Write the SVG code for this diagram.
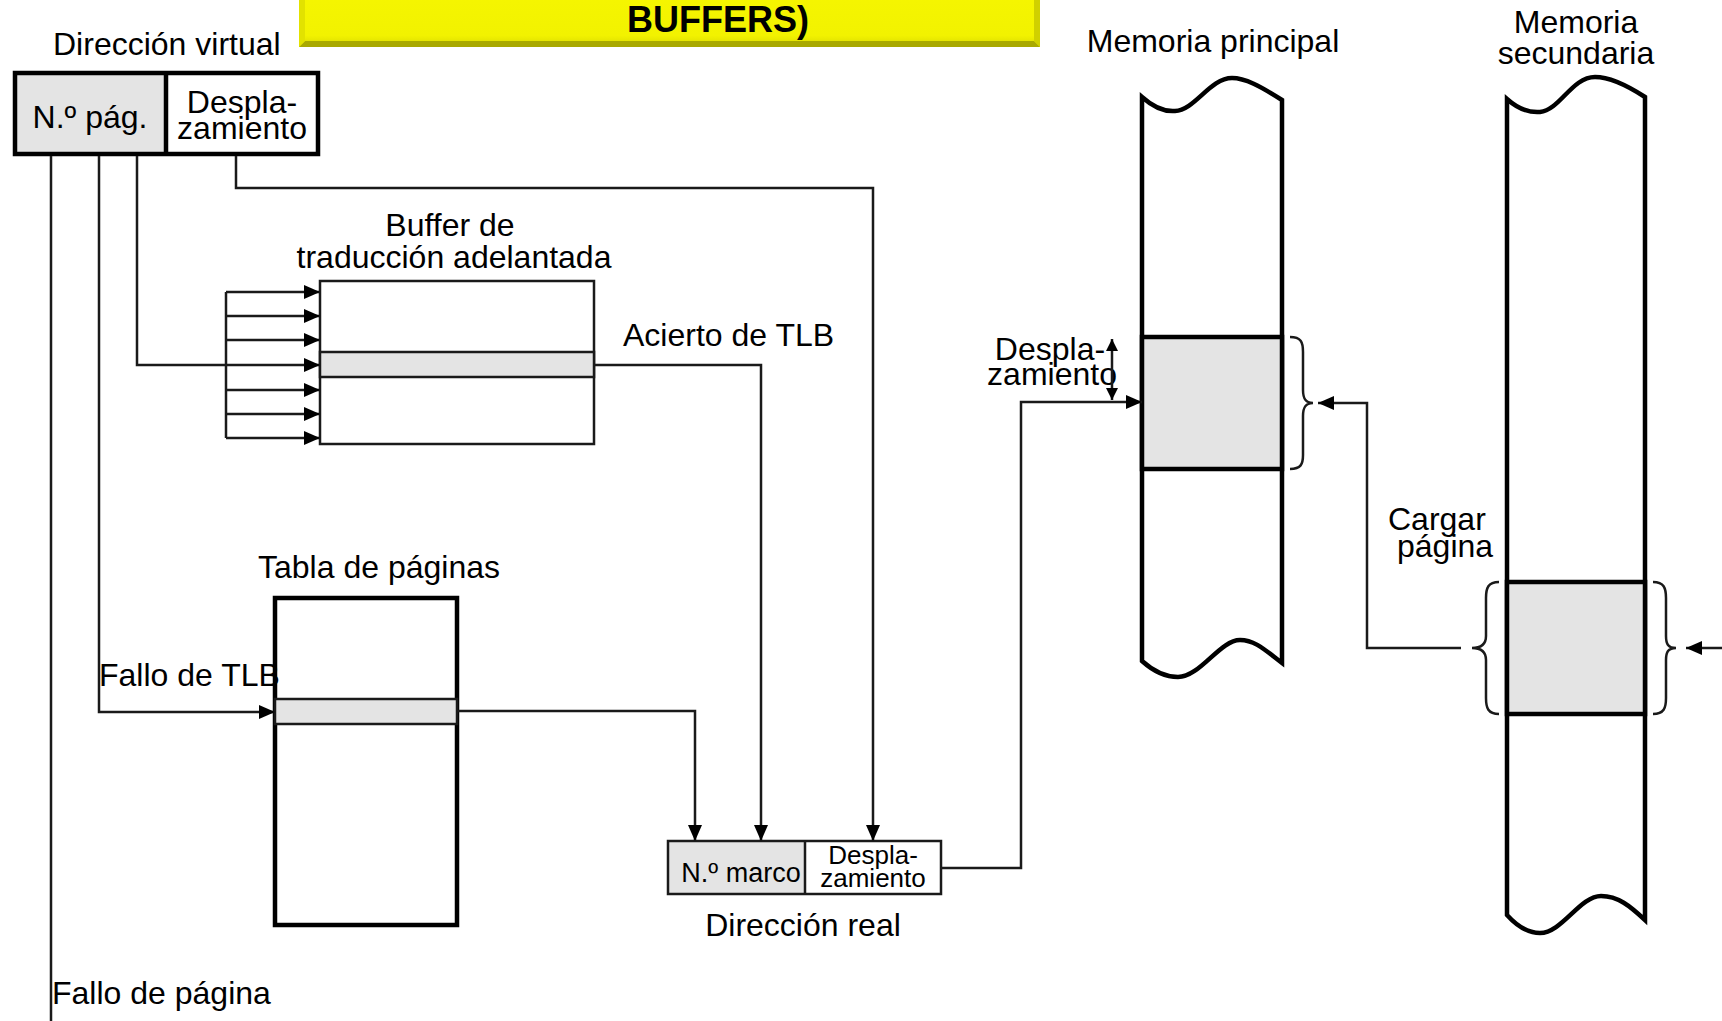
<svg xmlns="http://www.w3.org/2000/svg" width="1722" height="1021" viewBox="0 0 1722 1021">
<style>
text{font-family:"Liberation Sans",Arial,sans-serif;fill:#000}
.lbl{font-size:32px}
.sm{font-size:26px}
.ln{fill:none;stroke:#1a1a1a;stroke-width:2.5}
.thin{fill:none;stroke:#1a1a1a;stroke-width:2.5}
.thick{stroke:#000;stroke-width:4.5}
.hl{fill:#e4e4e4}
</style>
<defs>
<marker id="ah" markerUnits="userSpaceOnUse" markerWidth="18" markerHeight="14" refX="16" refY="7" orient="auto">
<path d="M0 0 L16 7 L0 14 Z" fill="#000"/>
</marker>
<marker id="as" markerUnits="userSpaceOnUse" markerWidth="14" markerHeight="12" refX="12" refY="6" orient="auto-start-reverse">
<path d="M0 0 L12 6 L0 12 Z" fill="#000"/>
</marker>
<linearGradient id="yb" x1="0" y1="0" x2="0" y2="1">
<stop offset="0" stop-color="#f6f600"/>
<stop offset="0.8" stop-color="#f2f200"/>
<stop offset="1" stop-color="#d8d800"/>
</linearGradient>
</defs>

<g id="title">
<rect x="299" y="-10" width="741" height="57" fill="url(#yb)"/>
<polygon points="299,47 1040,47 1034,41 305,41" fill="#a9a900"/>
<polygon points="299,-10 305,-10 305,41 299,47" fill="#e2e200"/>
<polygon points="1040,-10 1034,-10 1034,41 1040,47" fill="#d0d000"/>
<text x="718" y="32" text-anchor="middle" font-size="36" font-weight="bold">BUFFERS)</text>
</g>

<g id="virtual-address">
<text class="lbl" x="53" y="55">Dirección virtual</text>
<rect x="15" y="73" width="151" height="81" class="hl"/>
<rect x="15" y="73" width="303" height="81" fill="none" class="thick"/>
<line x1="166" y1="73" x2="166" y2="154" class="thick"/>
<text class="lbl" x="90" y="128" text-anchor="middle">N.º pág.</text>
<text class="lbl" x="242" y="113" text-anchor="middle">Despla-</text>
<text class="lbl" x="242" y="139" text-anchor="middle">zamiento</text>
</g>

<g id="tlb">
<text class="lbl" x="450" y="236" text-anchor="middle">Buffer de</text>
<text class="lbl" x="454" y="268" text-anchor="middle">traducción adelantada</text>
<rect x="320" y="281" width="274" height="163" fill="#fff" class="thin"/>
<rect x="320" y="352" width="274" height="25" class="hl" stroke="#1a1a1a" stroke-width="2.5"/>
</g>

<g id="page-table">
<text class="lbl" x="379" y="578" text-anchor="middle">Tabla de páginas</text>
<rect x="275" y="598" width="182" height="327" fill="#fff" class="thick"/>
<rect x="275" y="699" width="182" height="25" class="hl" stroke="#1a1a1a" stroke-width="2.5"/>
</g>

<g id="real-address">
<rect x="668" y="841" width="137" height="53" class="hl"/>
<rect x="668" y="841" width="273" height="53" fill="none" class="thin"/>
<line x1="805" y1="841" x2="805" y2="894" class="thin"/>
<text x="741" y="882" text-anchor="middle" font-size="27">N.º marco</text>
<text class="sm" x="873" y="864" text-anchor="middle">Despla-</text>
<text class="sm" x="873" y="887" text-anchor="middle">zamiento</text>
<text class="lbl" x="803" y="936" text-anchor="middle">Dirección real</text>
</g>

<g id="main-memory">
<text class="lbl" x="1213" y="52" text-anchor="middle">Memoria principal</text>
<path d="M1142 97 C1152 106,1162 112,1175 111 C1195 110,1210 78,1232 78 C1245 78,1260 86,1282 100 L1282 663 C1265 650,1255 640,1240 640 C1220 640,1200 677,1178 677 C1165 677,1152 670,1142 661 Z" fill="#fff" class="thick"/>
<rect x="1142" y="337" width="140" height="132" class="hl thick"/>
<path d="M1290 337 C1301 337,1303 342,1303 352 L1303 390 C1303 398,1305 403,1313 403 C1305 403,1303 408,1303 416 L1303 455 C1303 464,1301 469,1290 469" class="thin" stroke-width="2"/>
<text class="lbl" x="1050" y="360" text-anchor="middle">Despla-</text>
<text class="lbl" x="1052" y="385" text-anchor="middle">zamiento</text>
</g>

<g id="secondary-memory">
<text class="lbl" x="1576" y="33" text-anchor="middle">Memoria</text>
<text class="lbl" x="1576" y="64" text-anchor="middle">secundaria</text>
<path d="M1507 99 C1517 108,1527 113,1540 112 C1560 110,1572 77,1595 77 C1608 77,1625 84,1645 97 L1645 920 C1630 906,1618 896,1601 896 C1580 896,1562 933,1540 933 C1527 933,1516 925,1507 915 Z" fill="#fff" class="thick"/>
<rect x="1507" y="582" width="138" height="132" class="hl thick"/>
<path d="M1499 582 C1488 582,1486 588,1486 598 L1486 636 C1486 644,1481 648,1472 648 C1481 648,1486 652,1486 660 L1486 698 C1486 708,1488 714,1499 714" class="thin" stroke-width="2"/>
<path d="M1653 582 C1664 582,1666 588,1666 598 L1666 636 C1666 644,1668 648,1676 648 C1668 648,1666 652,1666 660 L1666 698 C1666 708,1664 714,1653 714" class="thin" stroke-width="2"/>
<text class="lbl" x="1388" y="530">Cargar</text>
<text class="lbl" x="1397" y="557">página</text>
</g>

<g id="labels">
<text class="lbl" x="623" y="346">Acierto de TLB</text>
<text class="lbl" x="99" y="686">Fallo de TLB</text>
<text class="lbl" x="52" y="1004">Fallo de página</text>
</g>

<g id="connectors">
<path class="ln" d="M51 156 V1021"/>
<path class="ln" d="M99 156 V712 H275" marker-end="url(#ah)"/>
<path class="ln" d="M137 156 V365 H320" marker-end="url(#ah)"/>
<path class="ln" d="M236 156 V188 H873 V841" marker-end="url(#ah)"/>
<path class="ln" d="M226 292 V438"/>
<path class="ln" d="M226 292 H320" marker-end="url(#ah)"/>
<path class="ln" d="M226 316 H320" marker-end="url(#ah)"/>
<path class="ln" d="M226 340 H320" marker-end="url(#ah)"/>
<path class="ln" d="M226 390 H320" marker-end="url(#ah)"/>
<path class="ln" d="M226 414 H320" marker-end="url(#ah)"/>
<path class="ln" d="M226 438 H320" marker-end="url(#ah)"/>
<path class="ln" d="M594 365 H761 V841" marker-end="url(#ah)"/>
<path class="ln" d="M457 711 H695 V841" marker-end="url(#ah)"/>
<path class="ln" d="M941 868 H1021 V402 H1142" marker-end="url(#ah)"/>
<path class="ln" d="M1112 339 V400" marker-start="url(#as)" marker-end="url(#as)"/>
<path class="ln" d="M1461 648 H1367 V403 H1318" marker-end="url(#ah)"/>
<path class="ln" d="M1722 648 H1686" marker-end="url(#ah)"/>
</g>
</svg>
